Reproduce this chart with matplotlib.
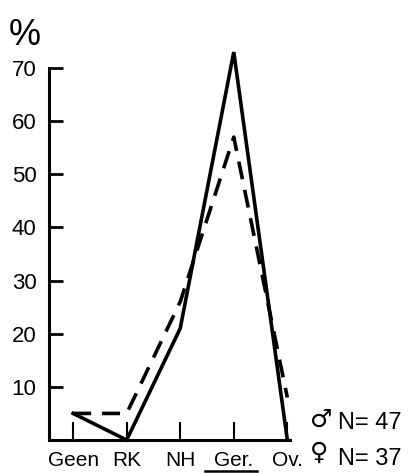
import matplotlib
matplotlib.use("Agg")
import matplotlib.pyplot as plt
from matplotlib.lines import Line2D

categories = ["Geen", "RK", "NH", "Ger.", "Ov."]
male = [5, 0, 21, 73, 0]
female = [5, 5, 26, 57, 8]
yticks = [10, 20, 30, 40, 50, 60, 70]

plt.rcParams['font.family'] = ['Liberation Sans', 'DejaVu Sans']

fig = plt.figure(figsize=(4.12, 4.73), dpi=100)
ax = fig.add_axes([49/412, 33/473, 241/412, 372/473])
x = list(range(len(categories)))
ax.plot(x, male, color='black', lw=2.6, solid_joinstyle='miter', clip_on=False)
ax.plot(x, female, color='black', lw=2.6, dashes=(5, 3), clip_on=False)
ax.set_xlim(-0.45, 4.05)
ax.set_ylim(0, 70)
for s in ['top', 'right']:
    ax.spines[s].set_visible(False)
for s in ['left', 'bottom']:
    ax.spines[s].set_linewidth(2.2)
ax.set_yticks(yticks)
ax.set_yticklabels([str(v) for v in yticks], fontsize=16)
ax.set_xticks(x)
ax.set_xticklabels(categories, fontsize=15)
ax.tick_params(axis='y', direction='in', length=10, width=2, pad=9)
ax.tick_params(axis='x', direction='in', length=13, width=1.5, pad=8)

fig.text(9/412, 1 - 45/473, "%", fontsize=26, ha='left', va='baseline')
fig.text(310/412, 1 - 427/473, "\u2642", fontsize=18, ha='left', va='baseline', family=['DejaVu Sans'])
fig.text(338/412, 1 - 429/473, "N= 47", fontsize=17, ha='left', va='baseline')
fig.text(310/412, 1 - 460/473, "\u2640", fontsize=18, ha='left', va='baseline', family=['DejaVu Sans'])
fig.text(338/412, 1 - 465/473, "N= 37", fontsize=17, ha='left', va='baseline')
fig.lines.append(Line2D([205/412, 257/412], [1 - 471/473, 1 - 471/473], color='black', lw=1.8, transform=fig.transFigure))

fig.savefig("out.png", dpi=100)
